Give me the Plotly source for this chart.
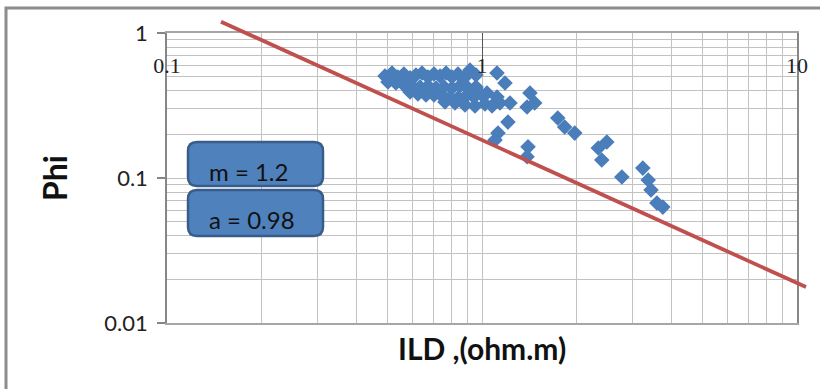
import plotly.graph_objects as go

# ---------------- data ----------------
ild = [0.492, 0.518, 0.541, 0.565, 0.591, 0.617, 0.645, 0.674, 0.704, 0.736, 0.769, 0.803, 0.839, 0.877, 0.916, 0.957,
       0.503, 0.533, 0.565, 0.600, 0.636, 0.674, 0.715, 0.758, 0.803, 0.851, 0.903, 0.957,
       0.591, 0.626, 0.664, 0.704, 0.746, 0.791, 0.839, 0.890, 0.943, 1.000,
       0.763, 0.821, 0.883, 0.950, 1.022, 1.076, 1.140,
       1.116, 1.183, 1.037, 1.116, 1.227, 1.42, 1.47, 1.39, 1.209, 1.124, 1.10, 1.40, 1.39,
       1.74, 1.83, 1.97, 2.49, 2.34, 2.40, 2.78, 3.24, 3.37, 3.44, 3.59, 3.75]
phi = [0.505, 0.530, 0.497, 0.521, 0.490, 0.513, 0.530, 0.497, 0.521, 0.505, 0.530, 0.497, 0.521, 0.490, 0.556, 0.513,
       0.459, 0.452, 0.438, 0.431, 0.424, 0.431, 0.418, 0.424, 0.418, 0.431, 0.418, 0.424,
       0.392, 0.380, 0.374, 0.374, 0.368, 0.362, 0.356, 0.368, 0.362, 0.374,
       0.334, 0.329, 0.319, 0.314, 0.324, 0.314, 0.329,
       0.530, 0.452, 0.386, 0.362, 0.329, 0.386, 0.329, 0.309, 0.243, 0.204, 0.183, 0.164, 0.140,
       0.259, 0.225, 0.204, 0.177, 0.161, 0.133, 0.1016, 0.117, 0.0969, 0.0826, 0.0673, 0.063]

line_ild = [0.1484, 10.68]
line_phi = [1.197, 0.0177]

x_tickvals = [0.1, 1, 10]
x_ticktext = ["0.1", "1", "10"]
y_tickvals = [0.01, 0.1, 1]
y_ticktext = ["0.01", "0.1", "1"]
box_texts = ["m = 1.2", "a = 0.98"]
x_title = "ILD ,(ohm.m)"
y_title = "Phi"

# ---------------- geometry (pixels) ----------------
W, H = 820, 389
L, R, T, B = 150, 815, 15, 323        # paper region
PL, PR, PT, PB = 167, 797, 33, 323    # main plot area


def px(x):
    return (x - L) / (R - L)


def py(y):
    return (B - y) / (B - T)


xdec = (PR - PL) / 2.0
ydec = (PB - PT) / 2.0
x2range = [-1 + (L - PL) / xdec, -1 + (R - PL) / xdec]
y2range = [-2 + (PB - B) / ydec, -2 + (PB - T) / ydec]

minor_x = [m * 10 ** e for e in (-1, 0) for m in range(2, 10)]
minor_y = [m * 10 ** e for e in (-2, -1) for m in range(2, 10)]

FONT = "Lato"
GRID = "#C2C2C2"

fig = go.Figure()
fig.add_trace(go.Scatter(x=ild, y=phi, mode="markers", xaxis="x", yaxis="y",
                         marker=dict(symbol="diamond", size=12, color="#4A7EBB", line=dict(width=0)),
                         showlegend=False, hoverinfo="x+y"))
fig.add_trace(go.Scatter(x=[], y=[], xaxis="x3", yaxis="y", showlegend=False, hoverinfo="skip"))
fig.add_trace(go.Scatter(x=line_ild, y=line_phi, mode="lines", xaxis="x2", yaxis="y2",
                         line=dict(color="#C0504D", width=3.8), showlegend=False))

fig.update_layout(
    template="none",
    width=W, height=H,
    margin=dict(l=L, r=W - R, t=T, b=H - B, pad=0, autoexpand=False),
    paper_bgcolor="white", plot_bgcolor="rgba(0,0,0,0)",
    font=dict(family=FONT, color="#222222"),
    xaxis=dict(type="log", range=[-1, 1], domain=[px(PL), px(PR)], anchor="y", side="top", automargin=False,
               tickvals=x_tickvals, showticklabels=False,
               ticks="inside", ticklen=30, tickcolor="#555555", tickwidth=1,
               showline=True, mirror=True, linecolor="#A6A6A6", linewidth=1.5,
               showgrid=True, gridcolor=GRID, gridwidth=1, zeroline=False,
               minor=dict(tickvals=minor_x, showgrid=True, gridcolor=GRID, gridwidth=1, ticks="")),
    xaxis3=dict(type="log", range=[-1, 1], overlaying="x", anchor="free", position=py(50), side="bottom",
                automargin=False,
                tickvals=x_tickvals, ticktext=x_ticktext, ticks="", showline=False,
                showgrid=False, zeroline=False,
                tickfont=dict(family="Liberation Serif", size=22, color="#222222")),
    yaxis=dict(type="log", range=[-2, 0], domain=[py(PB), py(PT)], anchor="x", automargin=False,
               tickvals=y_tickvals, ticktext=y_ticktext,
               ticks="outside", ticklen=8, tickcolor="#868686", tickwidth=1.5,
               ticklabelstandoff=5,
               tickfont=dict(family=FONT, size=22, color="#222222"),
               showline=True, mirror=True, linecolor="#868686", linewidth=1.5,
               showgrid=True, gridcolor=GRID, gridwidth=1, zeroline=False,
               title=dict(text="<b>" + y_title + "</b>", font=dict(family=FONT, size=32, color="#111111"), standoff=27),
               minor=dict(tickvals=minor_y, showgrid=True, gridcolor=GRID, gridwidth=1, ticks="")),
    xaxis2=dict(type="log", range=x2range, domain=[0, 1], anchor="y2", visible=False, automargin=False),
    yaxis2=dict(type="log", range=y2range, domain=[0, 1], anchor="x2", visible=False, automargin=False),
)


def rounded_path(x0, y0, x1, y1, r):
    pts = [
        f"M {px(x0 + r)},{py(y0)}",
        f"L {px(x1 - r)},{py(y0)}",
        f"Q {px(x1)},{py(y0)} {px(x1)},{py(y0 + r)}",
        f"L {px(x1)},{py(y1 - r)}",
        f"Q {px(x1)},{py(y1)} {px(x1 - r)},{py(y1)}",
        f"L {px(x0 + r)},{py(y1)}",
        f"Q {px(x0)},{py(y1)} {px(x0)},{py(y1 - r)}",
        f"L {px(x0)},{py(y0 + r)}",
        f"Q {px(x0)},{py(y0)} {px(x0 + r)},{py(y0)}",
        "Z",
    ]
    return " ".join(pts)


boxes = [(188, 142, 323, 186, 171), (188, 190, 323, 236, 219)]
for (bx0, by0, bx1, by1, ty), txt in zip(boxes, box_texts):
    fig.add_shape(type="path", xref="paper", yref="paper", path=rounded_path(bx0, by0, bx1, by1, 9),
                  fillcolor="#4F81BD", line=dict(color="#385D8A", width=2.5), layer="above")
    fig.add_annotation(xref="paper", yref="paper", x=px(207), y=py(ty), xanchor="left", yanchor="middle",
                       text=txt, showarrow=False, font=dict(family=FONT, size=24, color="#111111"))

# x axis title
fig.add_annotation(xref="paper", yref="paper", x=px((PL + PR) / 2), y=py(348), xanchor="center", yanchor="middle",
                   text="<b>" + x_title + "</b>", showarrow=False, font=dict(family=FONT, size=30, color="#111111"))

# outer chart frame
fig.add_shape(type="rect", xref="paper", yref="paper", x0=px(6), x1=px(860), y0=py(430), y1=py(8),
              line=dict(color="#8C8C8C", width=3), fillcolor="rgba(0,0,0,0)", layer="above")

fig.write_html("out.html")
